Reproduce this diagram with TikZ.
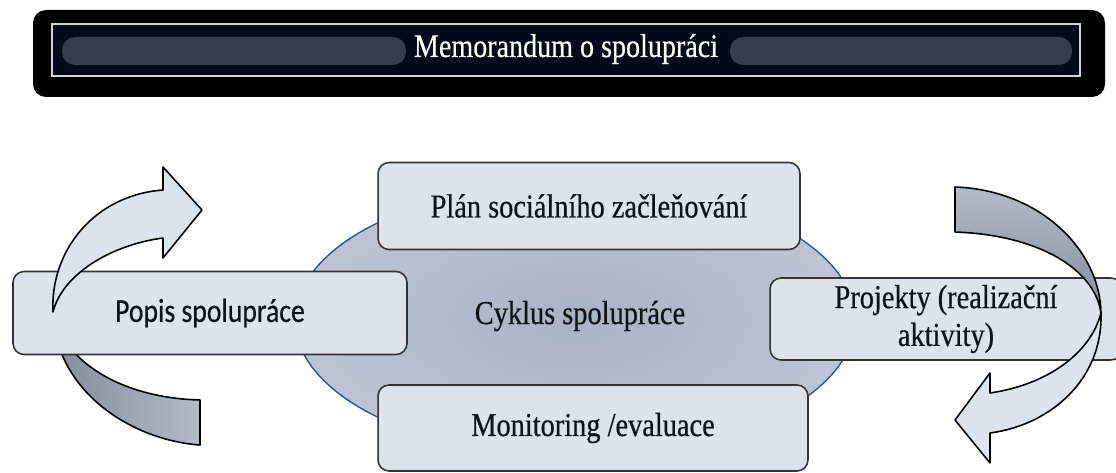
\documentclass[tikz,border=0pt]{standalone}
\usepackage{fontspec}
\setmainfont{Liberation Serif}[FakeStretch=0.85,FakeBold=0.5]
\newfontfamily\popisfont{Carlito}[FakeStretch=0.83,FakeBold=0.5]
\usepackage{tikz}
\usetikzlibrary{shapes.geometric}
\definecolor{boxfill}{HTML}{DDE3ED}
\definecolor{cyclefill}{HTML}{A9B3C6}
\definecolor{cycleedge}{HTML}{BCC4D4}
\definecolor{cycleline}{HTML}{2B5797}
\definecolor{taildark}{HTML}{858D9B}
\definecolor{taillight}{HTML}{B4BAC6}
\definecolor{bannernavy}{HTML}{030A1C}
\definecolor{bannerslate}{HTML}{343E4E}
\definecolor{labeltext}{HTML}{10121A}
\begin{document}
\begin{tikzpicture}[x=0.02cm,y=-0.02cm,
  box/.style={draw=black!80,fill=boxfill,rounded corners=0.22cm,line width=0.9pt,
    text=labeltext,font=\fontsize{19}{21.5}\selectfont,align=center,inner sep=0pt},
  cycleshape/.style={ellipse,draw=cycleline,inner color=cyclefill,outer color=cycleedge,
    line width=0.8pt,minimum width=11.2cm,minimum height=5.48cm,inner sep=0pt},
  bandarrow/.style={draw=black,line width=0.9pt,line join=round},
  title/.style={text=white,font=\fontsize{18.8}{22}\selectfont}]
  \useasboundingbox (0,0) rectangle (1116,473);
  \clip (0,0) rectangle (1116,473);

  \fill[black,rounded corners=0.26cm] (33,10) rectangle (1105,97);
  \fill[bannernavy] (52,24) rectangle (1080,76);
  \fill[bannerslate,rounded corners=0.26cm] (62,37) rectangle (406,65);
  \fill[bannerslate,rounded corners=0.26cm] (730,37) rectangle (1072,65);
  \draw[gray!35,line width=1.3pt] (52,24) rectangle (1080,76);
  \node[title] (memo) at (566,49) {Memorandum o spolupráci};

  \path[bandarrow,left color=taildark,right color=taillight]
    (53,312) .. controls (55,390) and (130,440) .. (200,445)
    -- (200,400) .. controls (120,398) and (62,360) .. (53,312) -- cycle;

  \node[cycleshape] (cyklus) at (575,320) {};
  \node[box,minimum width=8.44cm,minimum height=1.74cm] (plan) at (589,206) {Plán sociálního začleňování};
  \node[box,minimum width=8.6cm,minimum height=1.72cm] (monitor) at (593,428) {Monitoring /evaluace};
  \node[box,minimum width=7.88cm,minimum height=1.66cm] (popis) at (210,313) {\popisfont Popis spolupráce};
  \node[box,minimum width=7.04cm,minimum height=1.64cm] (projekty) at (946,319) {Projekty (realizační\\aktivity)};
  \node[text=labeltext,font=\fontsize{19}{22}\selectfont] (cyklustext) at (580,316) {Cyklus spolupráce};

  \path[bandarrow,fill=boxfill]
    (53,312) .. controls (50,250) and (95,195) .. (163,190)
    -- (163,167) -- (202,210) -- (163,258) -- (163,238)
    .. controls (110,245) and (62,275) .. (53,312) -- cycle;

  \path[bandarrow,top color=taillight,bottom color=taildark]
    (955,187) .. controls (1040,190) and (1100,250) .. (1101,313)
    .. controls (1095,270) and (1040,235) .. (955,232) -- cycle;
  \path[bandarrow,fill=boxfill]
    (1101,313) .. controls (1103,380) and (1050,425) .. (990,433)
    -- (990,463) -- (955,420) -- (990,373) -- (990,393)
    .. controls (1045,385) and (1090,355) .. (1101,313) -- cycle;
\end{tikzpicture}
\end{document}
